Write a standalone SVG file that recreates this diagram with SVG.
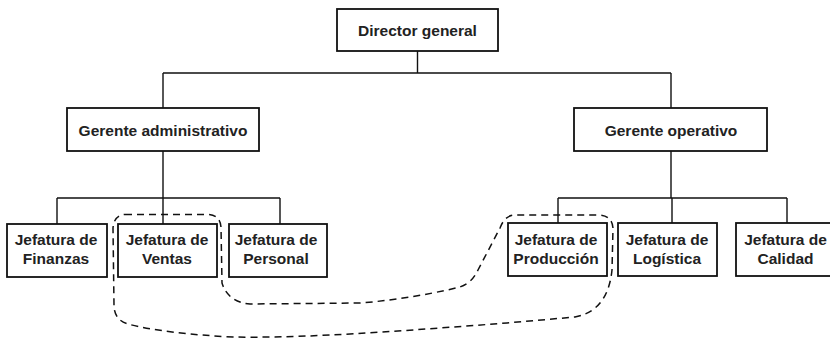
<svg xmlns="http://www.w3.org/2000/svg" width="830" height="339" viewBox="0 0 830 339">
  <style>
    .box { fill: #ffffff; stroke: #111111; stroke-width: 1.8; }
    .lbl { font-family: "Liberation Sans", Arial, sans-serif; font-weight: bold; font-size: 15.5px; fill: #222222; text-anchor: middle; }
    .link { fill: none; stroke: #111111; stroke-width: 1.4; }
    .group-outline { fill: none; stroke: #111111; stroke-width: 1.5; stroke-dasharray: 7 5; }
  </style>
  <rect width="830" height="339" fill="#ffffff"/>

  <!-- tree connectors -->
  <g id="connectors">
    <path class="link" d="M417.5,51 V73 M163,73 H671 M163,73 V108 M671,73 V108"/>
    <path class="link" d="M163,151 V198 M57,198 H280 M57,198 V224 M163,198 V224 M280,198 V224"/>
    <path class="link" d="M671,151 V198 M558,198 H787 M558,198 V224 M672,198 V224 M787,198 V224"/>
  </g>

  <!-- nodes -->
  <g id="director-general">
    <rect class="box" x="337" y="9" width="161" height="42"/>
    <text class="lbl" x="417.5" y="35.5">Director general</text>
  </g>
  <g id="gerente-administrativo">
    <rect class="box" x="67" y="108" width="192" height="43"/>
    <text class="lbl" x="163" y="135.5">Gerente administrativo</text>
  </g>
  <g id="gerente-operativo">
    <rect class="box" x="574" y="108" width="193" height="43"/>
    <text class="lbl" x="671" y="135.5">Gerente operativo</text>
  </g>
  <g id="jefatura-finanzas">
    <rect class="box" x="7" y="224" width="100" height="53"/>
    <text class="lbl" x="56" y="245">Jefatura de</text>
    <text class="lbl" x="56" y="264">Finanzas</text>
  </g>
  <g id="jefatura-ventas">
    <rect class="box" x="118" y="224" width="99" height="53"/>
    <text class="lbl" x="167" y="245">Jefatura de</text>
    <text class="lbl" x="167" y="264">Ventas</text>
  </g>
  <g id="jefatura-personal">
    <rect class="box" x="229" y="224" width="98" height="53"/>
    <text class="lbl" x="276" y="245">Jefatura de</text>
    <text class="lbl" x="276" y="264">Personal</text>
  </g>
  <g id="jefatura-produccion">
    <rect class="box" x="508" y="223" width="99" height="53"/>
    <text class="lbl" x="556" y="245">Jefatura de</text>
    <text class="lbl" x="556" y="264">Producción</text>
  </g>
  <g id="jefatura-logistica">
    <rect class="box" x="618" y="223" width="99" height="53"/>
    <text class="lbl" x="667" y="245">Jefatura de</text>
    <text class="lbl" x="667" y="264">Logística</text>
  </g>
  <g id="jefatura-calidad">
    <rect class="box" x="736" y="223" width="99" height="53"/>
    <text class="lbl" x="785.5" y="245">Jefatura de</text>
    <text class="lbl" x="785.5" y="264">Calidad</text>
  </g>

  <!-- dashed outline grouping Ventas and Producción -->
  <g id="grouping">
    <path class="group-outline" d="M125,214.5 L208,214.5 Q220,215 221,227 L222,283 C226,296 236,303 250,304 L360,303 C400,300 440,292 460,287 C470,283 474,278 478,270 L500,228 Q505,215 515,215 L600,215 Q612,216 613,228 L612,270 C610,290 602,312 575,317 L507,323 L440,328 C360,334 290,338 233,337 C190,335 150,330 128,324 Q114,320 114,305 L113,228 Q114,215 125,214.5 Z"/>
  </g>
</svg>
